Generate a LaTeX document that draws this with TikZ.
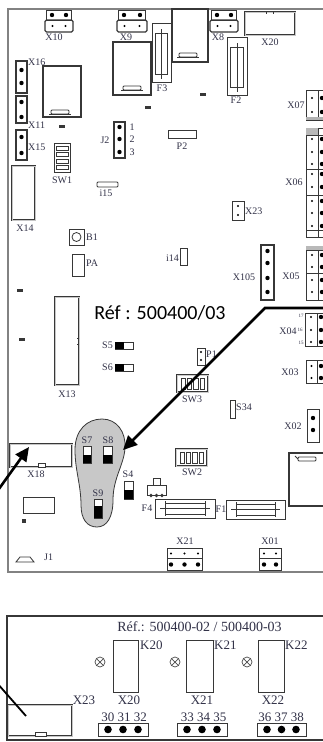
\documentclass[tikz,border=0pt]{standalone}
\usepackage{fontspec}
\setmainfont{Liberation Serif}
\newfontfamily\calib{Carlito}
\usetikzlibrary{arrows.meta}
\definecolor{lblc}{RGB}{50,50,72}
\definecolor{dk}{RGB}{55,55,55}
\definecolor{brd}{RGB}{130,130,130}
\definecolor{blobc}{RGB}{200,200,200}
\newcommand{\fsA}{\fontsize{10}{10}\selectfont}
\newcommand{\fsB}{\fontsize{13}{13}\selectfont}
\newcommand{\fsC}{\fontsize{5}{5}\selectfont}
\newcommand{\mybd}[2]{\fill[black] (#1,#2) circle (2.2pt);}
\newcommand{\mysd}[2]{\fill[black] (#1,#2) circle (1.2pt);}
\newcommand{\hcon}[3]{%
  \begin{scope}[shift={(#1,#2)}]
    \draw[part] (1.5,0) rectangle ({#3-1.5},10);
    \draw[part,line width=1.1pt,rounded corners=1.5pt] (0,10) rectangle (#3,22);
    \mybd{7}{5}\mybd{#3-7}{5}
    \mysd{7.5}{16}\mysd{#3-7.5}{16}
  \end{scope}}
\newcommand{\fuse}[4]{% x1 y1 x2 y2
  \draw[part] (#1,#2) rectangle (#3,#4);
  \draw[part] ({#1+10},{#2+4}) rectangle ({#3-10},{#4-4});
  \draw[part] ({#1+5},{(#2+#4)/2}) -- ({#3-5},{(#2+#4)/2});
  \draw[part] ({#1+10},{#2+2}) -- ({#1+10},{#4-2});
  \draw[part] ({#3-10},{#2+2}) -- ({#3-10},{#4-2});}
\newcommand{\vfuse}[4]{%
  \draw[part] (#1,#2) rectangle (#3,#4);
  \draw[part] ({#1+3.5},{#2+10}) rectangle ({#3-3.5},{#4-8});
  \draw[part] ({(#1+#3)/2},{#2+6}) -- ({(#1+#3)/2},{#4-3});}
\newcommand{\chipnotch}[2]{%
  \draw[part,rounded corners=1pt] (#1,#2) rectangle ({#1+18},{#2+4});
  \draw[part] ({#1-2},{#2+4}) -- ({#1+20},{#2+4});}
\newcommand{\swbox}[2]{%
  \begin{scope}[shift={(#1,#2)}]
    \draw[part,double=gray!40,double distance=0.7pt,line width=0.6pt] (0,0) rectangle (31,17);
    \foreach \k in {0,1,2,3} {\draw[part] ({4+\k*6.3},3) rectangle ({8.5+\k*6.3},14);}
  \end{scope}}
\begin{document}
\begin{tikzpicture}[x=1pt,y=-1pt,
  lbl/.style={font=\fsA, text=lblc, inner sep=0pt},
  blbl/.style={font=\fsB, text=lblc, inner sep=0pt},
  tiny/.style={font=\fsC, text=lblc, inner sep=0pt},
  part/.style={draw=dk, line width=0.8pt},
  dbl/.style={draw=dk, line width=0.7pt, double=gray!45, double distance=1pt},
  blk/.style={fill=dk},
  bigarrow/.style={line width=2.6pt, -{Triangle[length=14pt,width=13pt]}},
  xo/.style={draw=gray!60!black, line width=0.7pt}]
\useasboundingbox (0,0) rectangle (323,742);
\clip (0,0) rectangle (323,742);
\fill[white] (0,0) rectangle (323,742);

% ================= TOP BOARD =================
\draw[brd, line width=1.8pt] (340,9) -- (8,9) -- (8,572) -- (340,572);

% top connectors
\hcon{45}{10}{28}
\hcon{117}{10}{30}
\hcon{210}{10}{28}
\node[lbl] (lX10) at (54,37) {X10};
\node[lbl] (lX9) at (126,37) {X9};
\node[lbl] (lX8) at (218,37) {X8};

% chips
\draw[part,line width=1.1pt] (43,66) rectangle (81,117);
\chipnotch{51}{110}
\draw[part,line width=1.1pt] (113,42) rectangle (151,95);
\chipnotch{123}{86}
\draw[part,line width=1.1pt] (172,9) rectangle (208,62);
\chipnotch{179}{53}

% fuses F3 F2
\draw[part] (171,9) -- (171,23);
\vfuse{152}{23}{171}{82}
\node[lbl] (lF3) at (162,88) {F3};
\vfuse{227}{37}{247}{95}
\node[lbl] (lF2) at (236,100) {F2};

% X20
\draw[dbl] (245,12) rectangle (295,35);
\draw[part] (266,12) -- (266,14); \draw[part] (273,12) -- (273,14);
\node[lbl] (lX20) at (270,42) {X20};

% small marks
\fill[blk] (200,93) rectangle (206,96);
\fill[blk] (145,106) rectangle (151,109);
\fill[blk] (59,125) rectangle (65,128);
\fill[blk] (17,289) rectangle (23,292);
\fill[blk] (19,338) rectangle (25,341);
\fill[blk] (22,519) rectangle (26,523);

% X07, X06, X05, X04, X03, X02 (right column)
\draw[part] (306,90) rectangle (318,120); \draw[part] (318,90) rectangle (332,120);
\fill[gray!60] (306,117) rectangle (332,120);
\foreach \yy in {98,112} {\mysd{312}{\yy}\mybd{322}{\yy}}
\node[lbl] (lX07) at (296,105) {X07};

\draw[part] (306,128) rectangle (318,237); \draw[part] (318,128) rectangle (332,237);
\fill[gray!55] (306,128) rectangle (318,135);
\foreach \yy in {135,169,195,230} {\draw[part] (306,\yy) -- (332,\yy);}
\foreach \yy in {139,152,164,174,187,201,213,226} {\mysd{312}{\yy}\mybd{322}{\yy}}
\node[lbl] (lX06) at (294,182) {X06};

\draw[part] (306,246) rectangle (318,300); \draw[part] (318,246) rectangle (332,300);
\fill[gray!55] (306,246) rectangle (332,250);
\foreach \yy in {250,273} {\draw[part] (306,\yy) -- (332,\yy);}
\foreach \yy in {255,267,280,292} {\mysd{312}{\yy}\mybd{322}{\yy}}
\node[lbl] (lX05) at (291,276) {X05};

\draw[part] (305,313) rectangle (317,346); \draw[part] (317,313) rectangle (332,346);
\foreach \yy in {317,330,342} {\mysd{311}{\yy}\mybd{321}{\yy}}
\node[lbl] (lX04) at (288,331) {X04};
\node[tiny] (l17) at (301,316) {17};
\node[tiny] (l16) at (300,330) {16};
\node[tiny] (l15) at (301,343) {15};

\draw[part] (306,360) rectangle (317,383); \draw[part] (317,360) rectangle (332,383);
\foreach \yy in {366,378} {\mysd{311.5}{\yy}\mybd{321}{\yy}}
\node[lbl] (lX03) at (290,372) {X03};

\draw[part] (307,409) rectangle (319,442);
\foreach \yy in {418,430} {\mybd{313}{\yy}}
\node[lbl] (lX02) at (293,426) {X02};

% P2
\draw[part] (168,130) rectangle (196,138);
\node[lbl] (lP2) at (182,146) {P2};

% X16 X11 X15
\draw[part,line width=1.1pt] (16,61) rectangle (27,93);
\mybd{21.5}{70}\mybd{21.5}{83}
\node[lbl,anchor=west] (lX16) at (28,62) {X16};
\draw[part,line width=1.1pt] (16,96) rectangle (27,123);
\mybd{21.5}{102}\mybd{21.5}{117}
\node[lbl,anchor=west] (lX11) at (28,125) {X11};
\draw[part,line width=1.1pt] (16,130) rectangle (27,160);
\mybd{21.5}{137}\mybd{21.5}{153}
\node[lbl,anchor=west] (lX15) at (28,147) {X15};

% J2
\draw[part,line width=1.1pt] (114,122) rectangle (125,158);
\mybd{119.5}{127}\mybd{119.5}{139}\mybd{119.5}{152}
\node[lbl] (lJ2) at (105,140) {J2};
\node[lbl] (lj1) at (132,127) {1};
\node[lbl] (lj2) at (132,139) {2};
\node[lbl] (lj3) at (132,152) {3};

% SW1
\draw[part] (54,143) rectangle (70,172);
\foreach \yy in {146,152.5,159,165.5} {\draw[part] (56,\yy) rectangle (68,{\yy+4});}
\node[lbl] (lSW1) at (62,180) {SW1};

% i15
\draw[part,rounded corners=1pt] (97,182) rectangle (118,187);
\node[lbl] (li15) at (106,193) {i15};

% X14
\draw[dbl] (12,166) rectangle (35,220);
\node[lbl] (lX14) at (25,228) {X14};

% B1 PA
\draw[part,line width=1pt] (69,229) rectangle (84,245);
\draw[part] (76.5,237) circle (4.5pt);
\node[lbl,anchor=west] (lB1) at (86,237) {B1};
\draw[part,line width=1pt] (72,254) rectangle (84,276);
\node[lbl,anchor=west] (lPA) at (86,263) {PA};

% X23 top
\draw[part,line width=1pt] (232,201) rectangle (244,220);
\mysd{238}{206}\mysd{238}{215}
\node[lbl,anchor=west] (lX23) at (245,211) {X23};

% i14
\draw[part] (180,248) rectangle (187,265);
\node[lbl,anchor=east] (li14) at (179,258) {i14};

% X105
\draw[part,line width=1.1pt] (261,245) rectangle (274,300);
\foreach \yy in {251,263,278,292} {\mybd{267.5}{\yy}}
\node[lbl] (lX105) at (244,277) {X105};

% X13
\draw[dbl] (55,297) rectangle (79,385);
\draw[part] (79,338) -- (77,338); \draw[part] (79,344) -- (77,344);
\node[lbl] (lX13) at (67,394) {X13};

% S5 S6
\draw[part] (115,342) rectangle (133,349); \fill[black] (115,342) rectangle (124,349);
\node[lbl,anchor=east] (lS5) at (113,345.5) {S5};
\draw[part] (115,364) rectangle (133,371); \fill[black] (115,364) rectangle (124,371);
\node[lbl,anchor=east] (lS6) at (113,367.5) {S6};

% Ref text
\node[font=\calib\fontsize{20}{20}\selectfont, inner sep=0pt] (ref1) at (160,313) {Réf : 500400/03};

% P1
\draw[part,line width=1pt] (197,348) rectangle (205,365);
\mysd{201}{352}\mysd{201}{360}
\node[lbl,anchor=west] (lP1) at (206,354) {P1};

% SW3 SW2
\swbox{177}{375}
\node[lbl] (lSW3) at (192,399) {SW3};
\swbox{176}{449}
\node[lbl] (lSW2) at (192,472) {SW2};

% S34
\draw[part] (230,400) rectangle (235,418);
\node[lbl,anchor=west] (lS34) at (236,407) {S34};

% blob
\draw[dk, line width=0.8pt, fill=blobc]
  (102,419) .. controls (117,419) and (126,432) .. (125,448)
  .. controls (124,465) and (113,478) .. (113,500)
  .. controls (113,517) and (107,527) .. (97,527)
  .. controls (87,527) and (81,519) .. (81,505)
  .. controls (81,485) and (75,470) .. (75,450)
  .. controls (75,430) and (87,419) .. (102,419) -- cycle;
\draw[part,fill=white] (83,446) rectangle (91,463); \fill[black] (83,455) rectangle (91,463);
\node[lbl] (lS7) at (87,440) {S7};
\draw[part,fill=white] (103,446) rectangle (112,463); \fill[black] (103,455) rectangle (112,463);
\node[lbl] (lS8) at (108,440) {S8};
\draw[part,fill=white] (94,499) rectangle (102,518); \fill[black] (94,506) rectangle (102,518);
\node[lbl] (lS9) at (98,493) {S9};
\draw[part,fill=white] (124,481) rectangle (133,499); \fill[black] (124,490) rectangle (133,499);
\node[lbl] (lS4) at (128,474) {S4};

% regulator
\draw[part] (153,478) rectangle (160,485);
\draw[part] (147,485) rectangle (166,495);
\foreach \xx in {151,156.5,162} {\draw[part] (\xx,495.5) circle (1.3pt);}

% F4 F1
\fuse{155}{499}{215}{518}
\node[lbl] (lF4) at (147,508) {F4};
\fuse{226}{500}{285}{519}
\node[lbl] (lF1) at (221,509) {F1};

% right chip
\draw[part,line width=1.1pt] (289,453) rectangle (335,506);
\draw[part,rounded corners=1pt] (298,457) rectangle (316,461);
\draw[part] (295,456) -- (298,459);

% X21 X01
\draw[part,line width=1pt] (167,548) rectangle (202,570);
\draw[part] (167,558) -- (202,558);
\foreach \xx in {171,184.5,198} {\mysd{\xx}{553.5}\mybd{\xx}{564.5}}
\node[lbl] (lX21) at (185,541) {X21};
\draw[part,line width=1pt] (259,548) rectangle (281,570);
\draw[part] (259,558) -- (281,558);
\foreach \xx in {264,276} {\mysd{\xx}{553.5}\mybd{\xx}{564.5}}
\node[lbl] (lX01) at (270,541) {X01};

% X18
\draw[dbl] (10,444) rectangle (72,467);
\draw[part,fill=white] (38,463) rectangle (45,467);
\node[lbl] (lX18) at (36,474) {X18};

% small rect, J1
\draw[part,line width=1pt] (23,497) rectangle (54,513);
\draw[part] (16,562) -- (20,557) -- (30,557) -- (34,562) -- cycle;
\node[lbl,anchor=west] (lJ1) at (44,557) {J1};

% arrows
\coordinate (a1s) at (330,308);
\coordinate (a1b) at (265,308);
\coordinate (blobtip) at (123,450);
\draw[bigarrow] (a1s) -- (a1b) -- (blobtip);
\coordinate (a2s) at (-4,493);
\coordinate (x18tip) at (29,447);
\draw[bigarrow] (a2s) -- (x18tip);

% ================= BOTTOM BOARD =================
\draw[dk, line width=1.2pt] (340,616) -- (7,616) -- (7,740) -- (340,740);
\node[blbl, font=\fontsize{14}{14}\selectfont] (ref2) at (199.5,627) {Réf.: 500400-02 / 500400-03};

\draw[part] (113,640) rectangle (138,692);
\draw[part] (186,640) rectangle (213,692);
\draw[part] (258,640) rectangle (284,692);
\node[blbl,anchor=west] (lK20) at (140,645) {K20};
\node[blbl,anchor=west] (lK21) at (214,645) {K21};
\node[blbl,anchor=west] (lK22) at (285,645) {K22};
\foreach \xx in {100,175,247} {
  \draw[xo] (\xx,662) circle (5pt);
  \draw[xo] ({\xx-3.5},658.5) -- ({\xx+3.5},665.5);
  \draw[xo] ({\xx-3.5},665.5) -- ({\xx+3.5},658.5);}

\node[blbl] (lX23b) at (84,700) {X23};
\node[blbl] (lX20b) at (129,700) {X20};
\node[blbl] (lX21b) at (202,700) {X21};
\node[blbl] (lX22b) at (273,700) {X22};
\node[blbl] (n30) at (124,717) {30 31 32};
\node[blbl] (n33) at (203.5,717) {33 34 35};
\node[blbl] (n36) at (281,717) {36 37 38};

\draw[part,line width=1pt] (98,723) rectangle (148,736);
\foreach \xx in {108,123,138} {\fill (\xx,729.5) circle (3.8pt);}
\draw[part,line width=1pt] (177,723) rectangle (227,736);
\foreach \xx in {187,202,217} {\fill (\xx,729.5) circle (3.8pt);}
\draw[part,line width=1pt] (257,723) rectangle (306,736);
\foreach \xx in {267,281.5,296} {\fill (\xx,729.5) circle (3.8pt);}

\draw[dbl] (8,705) rectangle (72,736);
\draw[part,fill=white] (35,732) rectangle (46,736);

\coordinate (a3s) at (-3,683);
\coordinate (x23tip) at (26,716);
\draw[line width=1.8pt] (a3s) -- (x23tip);
\end{tikzpicture}
\end{document}
